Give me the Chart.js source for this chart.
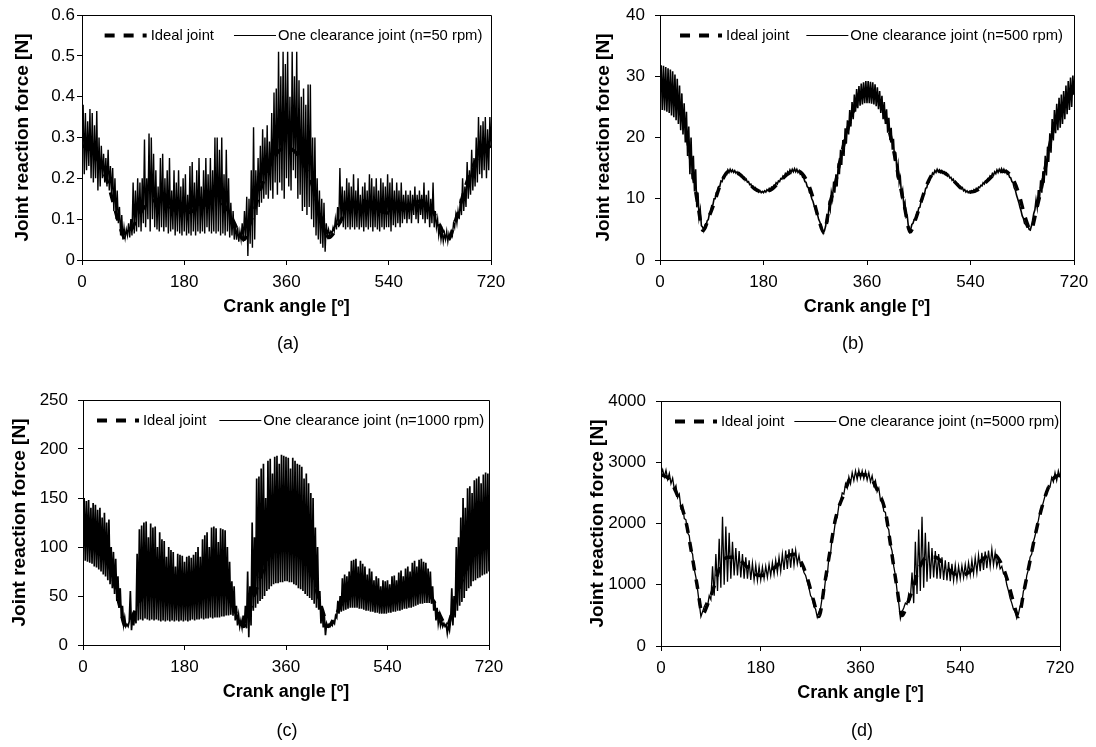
<!DOCTYPE html>
<html><head><meta charset="utf-8">
<script src="https://cdn.jsdelivr.net/npm/chart.js@4.4.1/dist/chart.umd.min.js"></script>
<style>
html,body{margin:0;padding:0;background:#fff;}
#wrap{position:relative;width:1096px;height:747px;overflow:hidden;background:#fff;font-family:"Liberation Sans",Arial,sans-serif;}
canvas{position:absolute;}
.sub{position:absolute;font-size:18px;color:#000;transform:translate(-50%,-50%);white-space:nowrap;line-height:1;}
</style></head><body>
<div id="wrap">
<canvas id="ca" width="548" height="372" style="left:0;top:0"></canvas>
<canvas id="cb" width="548" height="372" style="left:548px;top:0"></canvas>
<canvas id="cc" width="548" height="374" style="left:0;top:373px"></canvas>
<canvas id="cd" width="548" height="374" style="left:548px;top:373px"></canvas>
<div class="sub" style="left:288px;top:343px">(a)</div>
<div class="sub" style="left:853px;top:343px">(b)</div>
<div class="sub" style="left:287px;top:730px">(c)</div>
<div class="sub" style="left:862px;top:730px">(d)</div>
</div>
<script>
// ---------- DATA ----------
const X_TICKS = [0, 180, 360, 540, 720];
const X_LABELS = ['0', '180', '360', '540', '720'];
const X_TITLE = 'Crank angle [º]';
const Y_TITLE = 'Joint reaction force [N]';
const IDEAL_LABEL = 'Ideal joint';

const Y_TICKS_A = [0, 0.1, 0.2, 0.3, 0.4, 0.5, 0.6];
const Y_LABELS_A = ['0', '0.1', '0.2', '0.3', '0.4', '0.5', '0.6'];
const Y_TICKS_B = [0, 10, 20, 30, 40];
const Y_LABELS_B = ['0', '10', '20', '30', '40'];
const Y_TICKS_C = [0, 50, 100, 150, 200, 250];
const Y_LABELS_C = ['0', '50', '100', '150', '200', '250'];
const Y_TICKS_D = [0, 1000, 2000, 3000, 4000];
const Y_LABELS_D = ['0', '1000', '2000', '3000', '4000'];

const LABEL_A = 'One clearance joint (n=50 rpm)';
const LABEL_B = 'One clearance joint (n=500 rpm)';
const LABEL_C = 'One clearance joint (n=1000 rpm)';
const LABEL_D = 'One clearance joint (n=5000 rpm)';

// crank angles of the ideal-joint readings
const IDEAL_ANGLES = [0,15,30,45,55,65,75,85,95,105,120,135,150,165,180,195,210,225,240,255,265,275,285,295,305,315,330,345,360,
  375,390,405,415,425,435,445,455,465,480,495,510,525,540,555,570,585,600,615,625,635,645,655,665,675,690,705,720];

const IDEAL_A = [0.28,0.27,0.24,0.19,0.14,0.09,0.055,0.07,0.095,0.12,0.145,0.145,0.135,0.12,0.115,0.12,0.13,0.14,0.145,0.125,0.10,0.07,0.05,0.085,0.13,0.175,0.23,0.265,0.275,
  0.265,0.235,0.185,0.135,0.085,0.055,0.07,0.095,0.12,0.145,0.145,0.135,0.12,0.115,0.12,0.13,0.14,0.145,0.125,0.10,0.07,0.05,0.085,0.13,0.18,0.235,0.265,0.28];
const IDEAL_B = [28,27.3,25.5,21,15.5,9.5,4.8,7,9.5,12.3,14.5,14.2,13,11.6,11.1,11.6,13,14.2,14.5,13,10.5,7,4.5,9,12.5,17,22.5,26.3,27.4,
  26.8,24,18.5,13.5,8.8,4.6,6.8,9.8,12.5,14.5,14.2,13,11.6,11.1,11.6,13,14.2,14.5,13,10.5,7,4.9,8.3,12.5,17.5,23.5,26,27.5];
const IDEAL_C = [112,109,101,84,64,40,19,27,38,49,57,56,51,46,44,46,51,56,58,51,41,28,19,34,52,70,91,106,111,
  106,91,72,54,35,19,27,38,49,57,56,51,46,44,46,51,56,58,51,41,28,19,34,54,70,92,106,112];
const IDEAL_D = [2800,2720,2450,2030,1530,1000,520,700,950,1250,1450,1450,1340,1200,1150,1200,1320,1450,1500,1330,1080,750,480,1000,1550,2080,2480,2780,2800,
  2780,2550,2190,1600,1000,500,700,950,1250,1450,1450,1340,1200,1150,1200,1320,1450,1500,1330,1080,750,480,900,1350,1800,2350,2700,2800];

// clearance-joint readings, sampled every STEP_x degrees from 0 to 720
const STEP_A = 2;
const CLEAR_A = [
 0.30,0.38,0.21,0.36,0.22,0.34,0.23,0.37,0.20,0.36,
 0.19,0.33,0.20,0.365,0.17,0.30,0.18,0.28,0.20,0.26,
 0.19,0.25,0.18,0.27,0.17,0.23,0.16,0.225,0.12,0.20,
 0.10,0.17,0.09,0.13,0.06,0.11,0.05,0.08,0.055,0.075,
 0.06,0.09,0.055,0.10,0.06,0.19,0.065,0.17,0.07,0.20,
 0.08,0.19,0.07,0.20,0.09,0.295,0.08,0.20,0.10,0.31,
 0.07,0.30,0.10,0.26,0.08,0.22,0.075,0.18,0.07,0.25,
 0.08,0.26,0.07,0.20,0.08,0.22,0.065,0.25,0.07,0.17,
 0.075,0.22,0.06,0.19,0.07,0.22,0.065,0.18,0.06,0.20,
 0.07,0.21,0.06,0.16,0.065,0.23,0.06,0.24,0.07,0.19,
 0.06,0.22,0.07,0.25,0.065,0.18,0.07,0.22,0.065,0.25,
 0.08,0.21,0.07,0.25,0.065,0.22,0.07,0.30,0.065,0.30,
 0.07,0.27,0.06,0.30,0.065,0.21,0.06,0.27,0.07,0.20,
 0.055,0.14,0.06,0.12,0.05,0.09,0.05,0.08,0.045,0.07,
 0.05,0.09,0.045,0.12,0.05,0.155,0.01,0.15,0.04,0.22,
 0.03,0.325,0.05,0.22,0.11,0.25,0.13,0.28,0.14,0.32,
 0.15,0.30,0.16,0.33,0.15,0.29,0.17,0.36,0.15,0.41,
 0.19,0.42,0.16,0.51,0.19,0.45,0.17,0.51,0.15,0.48,
 0.20,0.51,0.18,0.40,0.17,0.51,0.22,0.45,0.20,0.51,
 0.15,0.44,0.16,0.40,0.12,0.42,0.13,0.38,0.11,0.43,
 0.13,0.43,0.10,0.30,0.08,0.30,0.06,0.20,0.05,0.17,
 0.04,0.15,0.03,0.14,0.02,0.09,0.06,0.075,0.06,0.07,
 0.065,0.08,0.07,0.10,0.075,0.13,0.08,0.225,0.09,0.18,
 0.08,0.17,0.075,0.20,0.08,0.19,0.075,0.18,0.08,0.21,
 0.075,0.17,0.08,0.20,0.075,0.16,0.08,0.18,0.07,0.19,
 0.08,0.17,0.075,0.21,0.08,0.20,0.07,0.18,0.08,0.20,
 0.075,0.17,0.07,0.20,0.08,0.19,0.075,0.18,0.08,0.21,
 0.08,0.19,0.07,0.20,0.085,0.17,0.08,0.19,0.09,0.17,
 0.08,0.19,0.09,0.16,0.10,0.17,0.09,0.16,0.10,0.17,
 0.09,0.16,0.11,0.18,0.10,0.16,0.09,0.17,0.11,0.16,
 0.10,0.19,0.09,0.16,0.10,0.17,0.08,0.15,0.09,0.19,
 0.08,0.12,0.08,0.10,0.06,0.08,0.05,0.07,0.045,0.065,
 0.05,0.07,0.045,0.065,0.055,0.07,0.06,0.09,0.08,0.11,
 0.09,0.12,0.10,0.15,0.11,0.20,0.12,0.18,0.13,0.24,
 0.15,0.22,0.16,0.27,0.17,0.25,0.18,0.30,0.19,0.35,
 0.21,0.33,0.20,0.34,0.22,0.35,0.20,0.32,0.22,0.35,
 0.28];

const STEP_B = 2;
const CLEAR_B = [
 27.5,31.8,24.5,31.7,24.4,31.5,24.2,31.3,24.0,31.1,
 23.6,30.8,23.3,30.3,22.8,29.6,22.2,28.5,21.2,27.2,
 20.5,25.6,19.2,24.2,17.0,21.8,14.0,20.0,13.2,17.0,
 11.2,14.8,8.6,11.0,7.0,8.2,5.6,5.4,4.8,5.6,
 5.4,6.4,6.6,7.6,7.8,8.9,9.0,10.0,10.0,11.0,
 11.1,12.0,12.0,12.9,12.8,13.6,13.6,14.2,14.0,14.7,
 14.3,14.8,14.4,14.7,14.3,14.6,14.2,14.4,14.0,14.2,
 13.7,13.9,13.4,13.5,13.0,13.2,12.7,12.8,12.3,12.4,
 11.9,12.0,11.6,11.8,11.3,11.5,11.1,11.3,11.0,11.2,
 11.0,11.3,11.1,11.5,11.3,11.7,11.5,11.9,11.8,12.2,
 12.1,12.6,12.4,12.9,12.8,13.3,13.2,13.7,13.5,14.1,
 13.8,14.4,14.1,14.7,14.3,14.8,14.4,14.9,14.4,14.8,
 14.3,14.6,14.0,14.1,13.5,13.4,12.8,12.7,12.0,11.8,
 11.0,10.8,10.0,9.6,8.9,8.4,7.8,7.4,6.6,6.2,
 5.6,5.2,4.4,4.8,5.5,6.8,6.5,9.0,8.2,11.0,
 10.0,12.8,11.0,14.0,12.0,15.8,14.0,18.0,15.5,19.6,
 17.0,21.5,19.0,22.8,20.5,24.5,21.8,25.8,23.0,27.0,
 24.2,27.9,24.8,28.4,25.2,28.8,25.4,29.0,25.6,29.2,
 25.6,29.2,25.6,29.1,25.5,29.0,25.4,28.7,25.1,28.2,
 24.6,27.6,24.0,26.8,23.0,25.8,22.2,24.6,20.8,23.2,
 19.6,21.6,18.0,19.8,16.2,17.6,14.4,15.6,12.6,13.4,
 10.6,11.4,8.8,9.4,7.0,7.2,5.4,4.6,5.0,5.8,
 6.0,6.6,6.6,7.4,7.6,8.5,8.6,9.6,9.7,10.6,
 10.8,11.7,11.8,12.7,12.7,13.5,13.5,14.2,14.0,14.6,
 14.3,14.8,14.4,14.7,14.3,14.6,14.2,14.4,14.0,14.2,
 13.7,13.9,13.4,13.5,13.0,13.2,12.7,12.8,12.3,12.4,
 11.9,12.0,11.6,11.8,11.3,11.5,11.1,11.3,11.0,11.2,
 11.0,11.3,11.1,11.5,11.3,11.7,11.5,11.9,11.8,12.2,
 12.1,12.6,12.4,12.9,12.8,13.3,13.2,13.7,13.5,14.1,
 13.8,14.4,14.1,14.7,14.3,14.8,14.4,14.9,14.4,14.8,
 14.3,14.6,14.0,14.1,13.5,13.4,12.8,12.6,11.8,11.4,
 10.6,10.0,9.4,8.6,8.0,7.2,6.8,6.0,5.8,5.4,
 5.6,5.0,4.9,5.6,6.5,7.6,8.2,9.8,8.6,11.4,
 10.0,13.0,11.0,14.5,12.6,17.0,13.8,18.5,16.0,20.7,
 17.5,23.0,19.5,24.5,20.7,25.5,21.2,26.5,21.6,27.0,
 22.2,27.6,23.0,28.5,23.8,29.2,24.5,29.8,25.0,30.1,
 27.0];

const STEP_C = 2;
const CLEAR_C = [
 85,150,86,147,85,148,84,140,83,145,
 80,143,79,138,77,140,75,130,72,135,
 70,125,66,128,62,100,58,95,52,88,
 45,70,38,58,28,40,21,28,19,21,
 19,24,55,15,30,20,35,22,93,25,
 118,26,122,25,125,27,126,26,110,25,
 124,26,120,25,121,26,100,25,115,24,
 108,25,106,24,90,25,100,24,97,25,
 95,24,80,25,93,24,92,25,91,24,
 85,25,90,24,91,25,89,26,92,25,
 95,26,100,26,90,27,108,26,112,27,
 115,27,100,28,120,27,121,28,119,28,
 105,28,119,29,118,29,117,30,100,30,
 85,31,65,30,60,25,40,20,30,19,
 25,18,30,18,40,17,75,8,60,20,
 125,35,110,38,170,42,172,45,180,47,
 185,50,150,55,188,57,190,60,175,62,
 192,63,193,63,185,64,194,64,193,65,
 192,65,191,64,180,64,191,62,188,61,
 185,58,184,57,182,55,170,52,175,50,
 165,48,155,46,150,42,120,38,100,36,
 55,22,40,18,30,10,22,19,21,19,
 22,20,24,22,30,28,45,32,50,34,
 68,35,72,36,70,37,75,38,86,38,
 87,38,88,38,80,37,86,37,83,36,
 80,35,72,35,78,34,75,34,66,33,
 70,33,68,32,60,32,66,32,65,32,
 66,33,62,33,70,34,71,34,66,35,
 74,35,76,36,70,37,78,37,80,38,
 75,38,84,39,86,40,80,41,87,42,
 88,42,85,43,84,43,78,43,75,42,
 60,35,45,25,38,22,30,20,25,19,
 22,19,21,12,20,15,25,58,20,50,
 28,100,35,110,40,130,44,150,48,140,
 55,160,58,162,60,155,65,168,66,170,
 68,172,69,165,71,174,72,176,73,175,
 75];

const STEP_D = 3;
const CLEAR_D = [
 2800,2880,2760,2870,2720,2820,2650,2740,2560,2620,
 2420,2480,2250,2300,2080,2060,1850,1800,1560,1500,
 1250,1120,920,700,480,560,640,700,650,820,
 760,1300,820,1500,900,1750,950,2110,1000,1950,
 1050,1850,1100,1700,1150,1600,1150,1550,1120,1500,
 1100,1450,1100,1400,1080,1350,1080,1320,1070,1300,
 1080,1290,1100,1300,1120,1330,1150,1360,1170,1400,
 1200,1450,1220,1500,1240,1560,1260,1580,1280,1590,
 1320,1560,1340,1480,1300,1320,1200,1150,1050,950,
 820,780,650,600,470,560,620,800,850,1100,
 1150,1450,1500,1800,1850,2050,2100,2300,2350,2500,
 2480,2650,2580,2760,2650,2830,2700,2860,2720,2870,
 2740,2860,2730,2850,2710,2830,2680,2780,2620,2700,
 2520,2580,2380,2420,2200,2180,1950,1900,1650,1550,
 1300,1150,900,700,450,560,620,700,680,850,
 780,1200,700,1700,850,1900,900,2110,950,1850,
 1050,1700,1100,1600,1120,1550,1100,1500,1100,1450,
 1080,1400,1070,1370,1060,1340,1070,1320,1080,1300,
 1100,1310,1120,1330,1140,1360,1160,1400,1180,1440,
 1200,1480,1220,1520,1240,1540,1270,1560,1300,1580,
 1320,1520,1300,1420,1260,1300,1180,1150,1000,900,
 780,700,600,560,450,520,650,700,900,950,
 1150,1250,1450,1500,1700,1800,1950,2050,2200,2250,
 2350,2450,2480,2620,2600,2750,2680,2830,2700,2860,
 2750];

// ---------- RENDERING ----------
const FONT = '"Liberation Sans", Arial, sans-serif';
Chart.defaults.font.family = FONT;
Chart.defaults.color = '#000';

const framePlugin = {
  id: 'frame',
  afterDatasetsDraw(chart) {
    const {ctx, chartArea: a} = chart;
    ctx.save();
    ctx.strokeStyle = '#000';
    ctx.lineWidth = 1;
    ctx.setLineDash([]);
    const t = Math.floor(a.top) + 0.5, r = Math.floor(a.right) + 0.5;
    ctx.beginPath();
    ctx.moveTo(a.left, t);
    ctx.lineTo(r, t);
    ctx.lineTo(r, a.bottom);
    ctx.stroke();
    ctx.restore();
  }
};

const inLegendPlugin = {
  id: 'inLegend',
  afterDraw(chart, args, opts) {
    const {ctx, chartArea: a} = chart;
    const ds = chart.data.datasets;
    ctx.save();
    ctx.font = opts.fontSize + 'px ' + FONT;
    ctx.fillStyle = '#000';
    ctx.strokeStyle = '#000';
    const sampleW = [42, 42];
    const gapAfter = [4, 2];
    const widths = ds.map(d => ctx.measureText(d.label).width);
    const total = sampleW[0] + gapAfter[0] + widths[0] + opts.gap + sampleW[1] + gapAfter[1] + widths[1];
    let x = (a.left + a.right) / 2 - total / 2 + opts.shift;
    const y = Math.round(a.top + opts.dy);
    ds.forEach((d, i) => {
      ctx.beginPath();
      ctx.setLineDash(d.legendDash || []);
      ctx.lineWidth = d.legendWidth || 1;
      ctx.lineCap = 'butt';
      ctx.moveTo(x, y + 0.5);
      ctx.lineTo(x + sampleW[i], y + 0.5);
      ctx.stroke();
      x += sampleW[i] + gapAfter[i];
      ctx.setLineDash([]);
      ctx.textBaseline = 'middle';
      ctx.textAlign = 'left';
      ctx.fillText(d.label, x, y + 1);
      x += widths[i] + opts.gap;
    });
    ctx.restore();
  }
};

function makeChart(id, p) {
  const clearance = p.clear.map((v, i) => ({x: i * p.step, y: v}));
  const ideal = IDEAL_ANGLES.map((ang, i) => ({x: ang, y: p.ideal[i]}));
  return new Chart(document.getElementById(id), {
    type: 'line',
    data: {
      datasets: [
        {label: IDEAL_LABEL, data: ideal, borderColor: '#000', backgroundColor: '#000',
         borderWidth: 3.5, borderDash: [10, 9], pointRadius: 0, fill: false,
         cubicInterpolationMode: 'monotone', order: 2, legendDash: [10, 9], legendWidth: 4},
        {label: p.label, data: clearance, borderColor: '#000', backgroundColor: '#000',
         borderWidth: p.lineW, pointRadius: 0, fill: false, tension: 0, order: 1, legendWidth: 1}
      ]
    },
    options: {
      responsive: false,
      animation: false,
      events: [],
      layout: {padding: p.pad},
      plugins: {
        legend: {display: false},
        tooltip: {enabled: false},
        inLegend: {fontSize: 14.8, gap: p.legGap, shift: p.legShift, dy: 20}
      },
      scales: {
        x: {
          type: 'linear', min: 0, max: 720,
          afterBuildTicks: s => { s.ticks = X_TICKS.map(v => ({value: v})); },
          afterFit: s => { s.height = 60; s.paddingLeft = 0; s.paddingRight = 0; s.paddingTop = 0; s.paddingBottom = 0; },
          grid: {drawOnChartArea: false, drawTicks: true, tickLength: 5, color: '#000', lineWidth: 1},
          border: {display: true, color: '#000', width: 1},
          ticks: {color: '#000', font: {size: 17}, padding: 7, maxRotation: 0, autoSkip: false,
                  callback: v => X_LABELS[X_TICKS.indexOf(v)]},
          title: {display: true, text: X_TITLE, color: '#000',
                  font: {size: 18, weight: 'bold'}, padding: {top: 0, bottom: 2}}
        },
        y: {
          type: 'linear', min: p.yTicks[0], max: p.yTicks[p.yTicks.length - 1],
          afterBuildTicks: s => { s.ticks = p.yTicks.map(v => ({value: v})); },
          afterFit: s => { s.width = p.yWidth; s.paddingLeft = 0; s.paddingRight = 0; s.paddingTop = 0; s.paddingBottom = 0; },
          grid: {drawOnChartArea: false, drawTicks: true, tickLength: 5, color: '#000', lineWidth: 1},
          border: {display: true, color: '#000', width: 1},
          ticks: {color: '#000', font: {size: 17}, padding: p.yPad, autoSkip: false,
                  callback: v => p.yLabels[p.yTicks.indexOf(v)]},
          title: {display: true, text: Y_TITLE, color: '#000',
                  font: {size: 19, weight: 'bold'}, padding: {top: p.titlePad, bottom: 0}}
        }
      }
    },
    plugins: [framePlugin, inLegendPlugin]
  });
}

makeChart('ca', {clear: CLEAR_A, step: STEP_A, ideal: IDEAL_A, label: LABEL_A, lineW: 1.4, legShift: 7, legGap: 20,
  yTicks: Y_TICKS_A, yLabels: Y_LABELS_A, yWidth: 82, yPad: 2, titlePad: 11,
  pad: {left: 0, top: 15, right: 57, bottom: 52}});
makeChart('cb', {clear: CLEAR_B, step: STEP_B, ideal: IDEAL_B, label: LABEL_B, lineW: 1.6, legShift: 4.5, legGap: 17,
  yTicks: Y_TICKS_B, yLabels: Y_LABELS_B, yWidth: 82, yPad: 10, titlePad: 14,
  pad: {left: 30, top: 15, right: 22, bottom: 52}});
makeChart('cc', {clear: CLEAR_C, step: STEP_C, ideal: IDEAL_C, label: LABEL_C, lineW: 1.7, legShift: 4.6, legGap: 13,
  yTicks: Y_TICKS_C, yLabels: Y_LABELS_C, yWidth: 83, yPad: 10, titlePad: 8,
  pad: {left: 0, top: 27, right: 59, bottom: 42}});
makeChart('cd', {clear: CLEAR_D, step: STEP_D, ideal: IDEAL_D, label: LABEL_D, lineW: 1.3, legShift: 6.6, legGap: 10,
  yTicks: Y_TICKS_D, yLabels: Y_LABELS_D, yWidth: 82, yPad: 10, titlePad: 7,
  pad: {left: 31, top: 28, right: 36, bottom: 41}});
</script>
</body></html>
